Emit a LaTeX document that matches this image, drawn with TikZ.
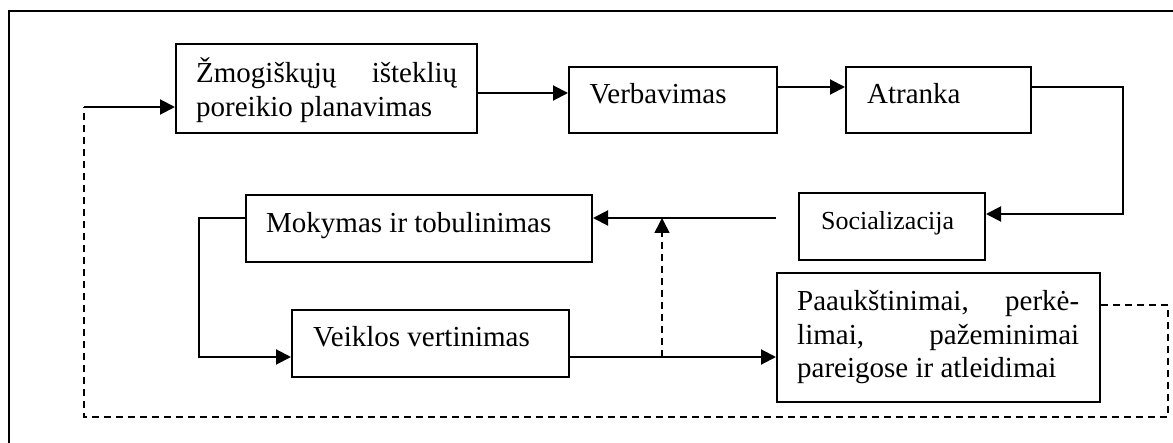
\documentclass[tikz,border=0pt]{standalone}
\usepackage{fontspec}
\setmainfont{Liberation Serif}
\usetikzlibrary{arrows.meta}

\tikzset{
  box/.style={draw, line width=2pt, rectangle, inner sep=0pt},
  txt/.style={inner sep=0pt, font=\fontsize{29}{33.5}\selectfont},
  smalltxt/.style={inner sep=0pt, font=\fontsize{26}{30}\selectfont},
  link/.style={line width=2pt},
  arr/.style={line width=2pt, -{Triangle[length=15pt,width=15pt]}},
  back/.style={line width=1.6pt, dash pattern=on 7pt off 5pt},
  backarr/.style={back, -{Triangle[length=15pt,width=15pt]}},
  frame/.style={line width=2pt},
}

\begin{document}
\begin{tikzpicture}[x=1pt, y=-1pt]
  \clip (0,0) rectangle (1173,443);
  \fill[white] (0,0) rectangle (1173,443);

  % outer frame (its right and bottom sides lie outside the page)
  \draw[frame] (9,10.7) rectangle (1200,470);

  % process boxes
  \node[box, minimum width=301pt, minimum height=89pt]  (plan) at (326.5,88.5) {};
  \node[box, minimum width=208pt, minimum height=66pt]  (verb) at (673,100) {};
  \node[box, minimum width=185pt, minimum height=66pt]  (atr)  at (938.5,100) {};
  \node[box, minimum width=186pt, minimum height=67pt]  (soc)  at (892,226.5) {};
  \node[box, minimum width=346pt, minimum height=67pt]  (mok)  at (419,228.5) {};
  \node[box, minimum width=277pt, minimum height=67pt]  (veik) at (430.5,343.5) {};
  \node[box, minimum width=323pt, minimum height=129pt] (paau) at (938.5,337.5) {};

  % box labels
  \node[txt, anchor=base west] (planT) at (196,83)
    {\parbox[t]{261pt}{Žmogiškųjų\hfill išteklių\\poreikio planavimas}};
  \node[txt, anchor=base west] (verbT) at (589.5,104) {Verbavimas};
  \node[txt, anchor=base west] (atrT)  at (867,104) {Atranka};
  \node[smalltxt, anchor=base west] (socT) at (821,230) {Socializacija};
  \node[txt, anchor=base west] (mokT)  at (266,233) {Mokymas ir tobulinimas};
  \node[txt, anchor=base west] (veikT) at (313,347) {Veiklos vertinimas};
  \node[txt, anchor=base west] (paauT) at (797,311)
    {\parbox[t]{282pt}{Paaukštinimai,\hfill perkė-\\limai,\hfill pažeminimai\\pareigose ir atleidimai}};

  % helper points of the connectors
  \coordinate (split) at (662,357);
  \coordinate (merge) at (662,218);
  \coordinate (ret)   at (84,107);

  % main flow
  \draw[arr] (plan.east |- 0,93) -- (verb.west |- 0,93);
  \draw[arr] (verb.east |- 0,87) -- (atr.west |- 0,87);
  \draw[arr] (atr.east |- 0,87) -- (1123,87) -- (1123,214) -- (soc.east |- 0,214);
  \draw[arr, shorten <=22pt] (soc.west |- 0,218) -- (mok.east |- 0,218);
  \draw[arr] (mok.west |- 0,218) -- (199,218) -- (199,357) -- (veik.west |- 0,357);
  \draw[arr] (veik.east |- split) -- (paau.west |- split);

  % feedback loops
  \draw[backarr] (split) -- (merge);
  \draw[back] (paau.east |- 0,305) -- (1168,305) -- (1168,417) -- (84,417) -- (ret);
  \draw[arr] (ret) -- (plan.west |- ret);
\end{tikzpicture}
\end{document}
